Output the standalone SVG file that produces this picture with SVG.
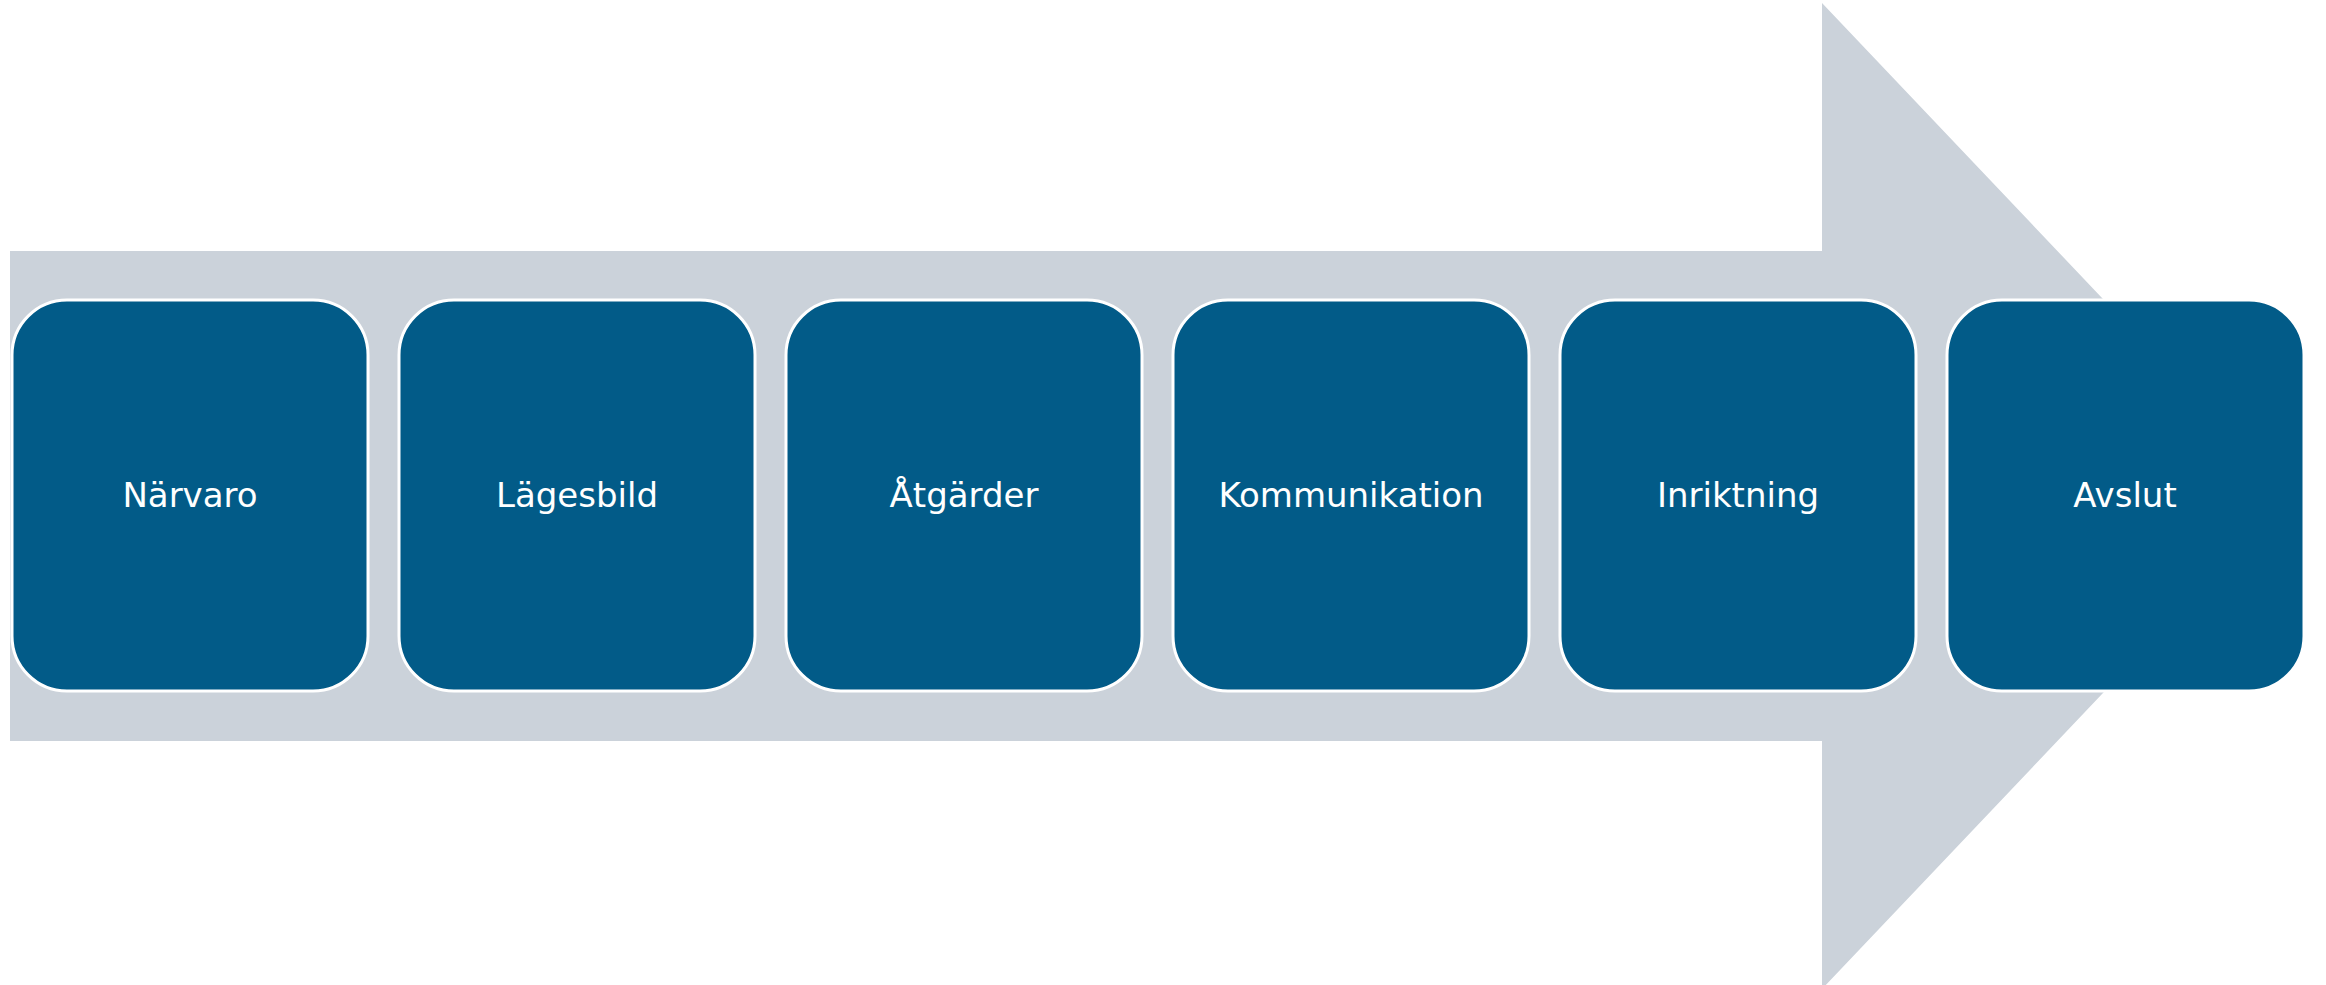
<svg xmlns="http://www.w3.org/2000/svg" width="2326" height="985" viewBox="0 0 2326 985">
<style>
.box{fill:#025B88;stroke:#FFFFFF;stroke-width:3}
.lbl{fill:#FFFFFF;font-family:"DejaVu Sans","Noto Sans",sans-serif;font-size:34px;text-anchor:middle}
</style>
<rect width="2326" height="985" fill="#FFFFFF"/>
<g id="arrow">
<path d="M10,251 L1822,251 L1822,3 L2290,496 L1822,989 L1822,741 L10,741 Z" fill="#CBD2DA"/>
</g>
<g id="connectors"></g>
<g id="n1"><rect class="box" x="12" y="300" width="356" height="391" rx="55" ry="55"/><text class="lbl" x="190" y="507">Närvaro</text></g>
<g id="n2"><rect class="box" x="399" y="300" width="356" height="391" rx="55" ry="55"/><text class="lbl" x="577" y="507">Lägesbild</text></g>
<g id="n3"><rect class="box" x="786" y="300" width="356" height="391" rx="55" ry="55"/><text class="lbl" x="964" y="507">Åtgärder</text></g>
<g id="n4"><rect class="box" x="1173" y="300" width="356" height="391" rx="55" ry="55"/><text class="lbl" x="1351" y="507">Kommunikation</text></g>
<g id="n5"><rect class="box" x="1560" y="300" width="356" height="391" rx="55" ry="55"/><text class="lbl" x="1738" y="507">Inriktning</text></g>
<g id="n6"><rect class="box" x="1947" y="300" width="357" height="391" rx="55" ry="55"/><text class="lbl" x="2125" y="507">Avslut</text></g>
</svg>
